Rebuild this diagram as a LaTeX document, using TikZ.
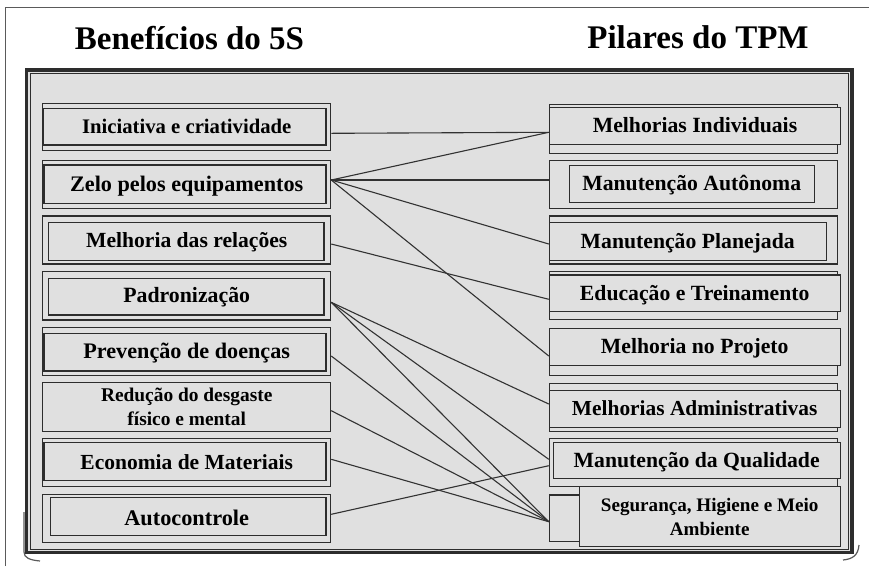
\documentclass[tikz,border=0pt]{standalone}
\usepackage{fontspec}
\setmainfont{Liberation Serif}
\definecolor{panel}{RGB}{224,224,224}
\definecolor{boxline}{RGB}{45,45,45}
\definecolor{conn}{RGB}{50,50,50}
\definecolor{pagegray}{RGB}{90,90,90}
\begin{document}
\begin{tikzpicture}[x=1pt,y=-1pt,
  box/.style={draw=boxline,line width=1.1pt,fill=panel,inner sep=0pt,
    text height=14pt,text depth=0pt},
  twoline/.style={draw=boxline,line width=1.1pt,fill=panel,inner sep=0pt,align=center},
  fs/.style={font=\bfseries\fontsize{#1}{25}\selectfont},
  innerbox/.style={draw=boxline,line width=1.1pt},
  title/.style={font=\bfseries\fontsize{33}{36}\selectfont,anchor=base},
  link/.style={draw=conn,line width=1.1pt}]
\useasboundingbox (0,0) rectangle (869,566);
\fill[white] (0,0) rectangle (869,566);
% page border
\draw[pagegray,line width=1pt] (5,566) -- (5,7) -- (869,7);
% titles
\node[title] (t1) at (189.5,49) {Benefícios do 5S};
\node[title] (t2) at (698,48) {Pilares do TPM};
% panel
\draw[line width=3.3pt,draw=boxline,fill=panel] (26.7,70) rectangle (852,552.5);
\draw[line width=1pt,draw=boxline] (30.5,73.5) rectangle (848.5,549);
% curls
\draw[pagegray,line width=1.2pt] (24,512) -- (24,552) .. controls (24,558) and (30,560) .. (40,561);
\draw[pagegray,line width=1.2pt] (859,545) .. controls (858,556) and (852,559) .. (843,560);

% left boxes
\node[box,fs=20.7,minimum width=288pt,minimum height=46.7pt] (L1) at (186.7,126.7) {Iniciativa e criatividade};
\draw[innerbox] (43.3,108.3) rectangle (326,145);
\node[box,fs=22.2,minimum width=288pt,minimum height=47.6pt] (L2) at (186.7,184.5) {Zelo pelos equipamentos};
\draw[innerbox] (44,165) rectangle (326,203.3);
\node[box,fs=21.6,minimum width=288pt,minimum height=48pt] (L3) at (186.7,240) {Melhoria das relações};
\draw[innerbox] (48.3,222.7) rectangle (324,260.7);
\node[box,fs=21.8,minimum width=288pt,minimum height=48.3pt] (L4) at (186.7,295.8) {Padronização};
\draw[innerbox] (48.3,278.3) rectangle (324,315);
\node[box,fs=22.2,minimum width=288pt,minimum height=48pt] (L5) at (186.7,351.3) {Prevenção de doenças};
\draw[innerbox] (44,333.3) rectangle (326,371);
\node[twoline,fs=19.4,minimum width=288pt,minimum height=49pt] (L6) at (186.7,407.2) {Redução do desgaste\\[-1pt]físico e mental};
\node[box,fs=21.5,minimum width=288pt,minimum height=48.3pt] (L7) at (186.7,462.5) {Economia de Materiais};
\draw[innerbox] (44,442.3) rectangle (326,480.7);
\node[box,fs=22.3,minimum width=288pt,minimum height=48pt] (L8) at (186.7,518.3) {Autocontrole};
\draw[innerbox] (50.7,497.7) rectangle (326,535.7);

% right boxes (back, connected) and front (text)
\node[box,minimum width=288pt,minimum height=49.3pt] (R1) at (693.3,128.7) {};
\node[box,fs=21.7,minimum width=291.4pt,minimum height=36.7pt] (R1f) at (695,125.7) {Melhorias Individuais};
\node[box,minimum width=288pt,minimum height=47.6pt] (R2) at (693.3,184.5) {};
\node[box,fs=21.7,minimum width=245.3pt,minimum height=37.7pt] (R2f) at (691.7,183.9) {Manutenção Autônoma};
\node[box,minimum width=288pt,minimum height=48pt] (R3) at (693.3,240) {};
\node[box,fs=21.7,minimum width=276.7pt,minimum height=38pt] (R3f) at (687.7,241.7) {Manutenção Planejada};
\node[box,minimum width=288pt,minimum height=47.6pt] (R4) at (693.3,295.5) {};
\node[box,fs=21.7,minimum width=290.7pt,minimum height=36.7pt] (R4f) at (694.7,293.3) {Educação e Treinamento};
\node[box,minimum width=288pt,minimum height=46.7pt] (R5) at (693.3,351.7) {};
\node[box,fs=21.7,minimum width=290.7pt,minimum height=36.7pt] (R5f) at (694.7,346.7) {Melhoria no Projeto};
\node[box,minimum width=288pt,minimum height=48.4pt] (R6) at (693.3,407.5) {};
\node[box,fs=21.4,minimum width=290.7pt,minimum height=37.3pt] (R6f) at (694.7,408.7) {Melhorias Administrativas};
\node[box,minimum width=288pt,minimum height=47.7pt] (R7) at (693.3,462.2) {};
\node[box,fs=21.7,minimum width=286.7pt,minimum height=36pt] (R7f) at (696.7,460.3) {Manutenção da Qualidade};
\node[box,minimum width=288pt,minimum height=46.7pt] (R8) at (693.3,518.3) {};
\node[twoline,fs=19.1,minimum width=260.7pt,minimum height=60pt] (R8f) at (709.7,516.7) {Segurança, Higiene e Meio\\[-1pt]Ambiente};

% ports
\coordinate (L1p) at ([yshift=-6.6pt]L1.east);
\coordinate (L2p) at ([yshift=4.5pt]L2.east);
\coordinate (L3p) at ([yshift=-4pt]L3.east);
\coordinate (L4p) at ([yshift=-6.5pt]L4.east);
\coordinate (L5p) at ([yshift=-4.7pt]L5.east);
\coordinate (L6p) at ([yshift=-3.5pt]L6.east);
\coordinate (L7p) at ([yshift=3.2pt]L7.east);
\coordinate (L8p) at ([yshift=4pt]L8.east);
\coordinate (R1p) at ([yshift=-3.6pt]R1.west);
\coordinate (R2p) at ([yshift=4.5pt]R2.west);
\coordinate (R3p) at ([yshift=-4pt]R3.west);
\coordinate (R4p) at ([yshift=-3.8pt]R4.west);
\coordinate (R5p) at ([yshift=-4.3pt]R5.west);
\coordinate (R6p) at ([yshift=3.5pt]R6.west);
\coordinate (R7a) at ([yshift=2.9pt]R7.west);
\coordinate (R7b) at ([yshift=-3.5pt]R7.west);
\coordinate (R8p) at ([yshift=-3.4pt]R8.west);

% connectors
\draw[link] (L1p) -- (R1p);
\draw[link] (L2p) -- (R1p);
\draw[link] (L2p) -- (R2p);
\draw[link] (L2p) -- (R3p);
\draw[link] (L2p) -- (R5p);
\draw[link] (L3p) -- (R4p);
\draw[link] (L4p) -- (R6p);
\draw[link] (L4p) -- (R7a);
\draw[link] (L4p) -- (R8p);
\draw[link] (L5p) -- (R8p);
\draw[link] (L6p) -- (R8p);
\draw[link] (L7p) -- (R8p);
\draw[link] (L8p) -- (R7b);
\end{tikzpicture}
\end{document}
